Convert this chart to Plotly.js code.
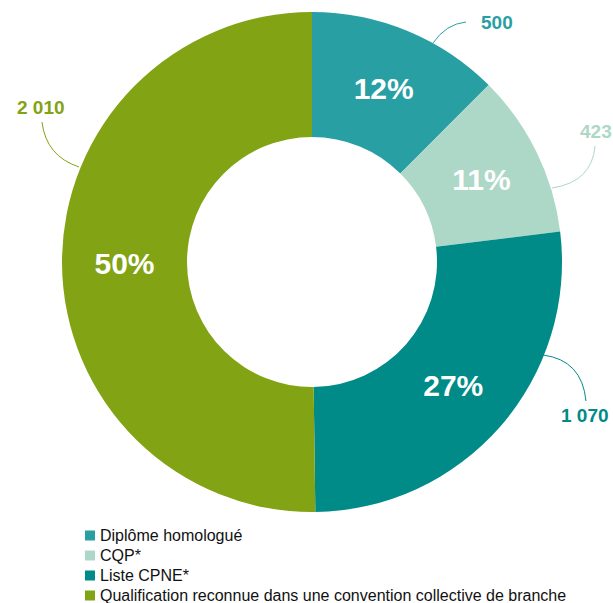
<!DOCTYPE html>
<html>
<head>
<meta charset="utf-8">
<script src="https://cdn.plot.ly/plotly-3.0.1.min.js"></script>
<style>
  html, body { margin: 0; padding: 0; background: #ffffff; }
  #chart { width: 613px; height: 603px; }
</style>
</head>
<body>
<div id="chart"></div>
<script>
// Répartition des certifications par type
const categories = [
  'Diplôme homologué',
  'CQP*',
  'Liste CPNE*',
  'Qualification reconnue dans une convention collective de branche'
];
const values = [500, 423, 1070, 2010];
const percentLabels = ['12%', '11%', '27%', '50%'];
const colors = ['#289FA3', '#ADD8C8', '#008A88', '#82A313'];

const FONT = 'Arial, "Liberation Sans", sans-serif';
const W = 613, H = 603;
const px = x => x / W;
const py = y => 1 - y / H;

// French thousands separator (space)
const fmt = v => String(v).replace(/\B(?=(\d{3})+(?!\d))/g, ' ');

// Value callouts with their leader curves (pixel geometry)
const callouts = [
  { label: [497, 22], from: [433, 43], ctrl: [446, 24], to: [466, 22] },
  { label: [596, 131], from: [595, 146], ctrl: [592, 182], to: [552, 188] },
  { label: [585, 415], from: [586, 401], ctrl: [582, 360], to: [543, 355] },
  { label: [41, 108], from: [42, 122], ctrl: [46, 156], to: [79, 167] }
];

const annotations = callouts.map((c, i) => ({
  xref: 'paper', yref: 'paper',
  x: px(c.label[0]), y: py(c.label[1]),
  xanchor: 'center', yanchor: 'middle',
  text: '<b>' + fmt(values[i]) + '</b>',
  showarrow: false,
  font: { family: FONT, size: 19, color: colors[i] }
}));

const shapes = callouts.map((c, i) => ({
  type: 'path',
  xref: 'paper', yref: 'paper',
  path: 'M ' + px(c.from[0]) + ',' + py(c.from[1]) +
        ' Q ' + px(c.ctrl[0]) + ',' + py(c.ctrl[1]) +
        ' ' + px(c.to[0]) + ',' + py(c.to[1]),
  line: { color: colors[i], width: 1 }
}));

// Compact legend below the ring: square swatch + label, one row per category
const LEG_X = 85, LEG_Y0 = 535.5, LEG_ROW = 20, SW = 10;
categories.forEach((name, i) => {
  const cy = LEG_Y0 + i * LEG_ROW;
  shapes.push({
    type: 'rect', xref: 'paper', yref: 'paper',
    x0: px(LEG_X), x1: px(LEG_X + SW),
    y0: py(cy + SW / 2), y1: py(cy - SW / 2),
    fillcolor: colors[i], line: { width: 0 }
  });
  annotations.push({
    xref: 'paper', yref: 'paper',
    x: px(LEG_X + SW + 3), y: py(cy),
    xanchor: 'left', yanchor: 'middle',
    text: name, showarrow: false,
    font: { family: FONT, size: 16, color: '#111111' }
  });
});

const trace = {
  type: 'pie',
  labels: categories,
  values: values,
  text: percentLabels,
  textinfo: 'text',
  textposition: 'inside',
  insidetextorientation: 'horizontal',
  insidetextfont: { family: FONT, size: 30, color: '#ffffff', weight: 'bold' },
  hole: 0.5,
  sort: false,
  direction: 'clockwise',
  rotation: 0,
  marker: { colors: colors, line: { width: 0 } },
  domain: { x: [px(62), px(562)], y: [py(512), py(12)] },
  hoverinfo: 'label+value+percent'
};

const layout = {
  width: W, height: H,
  margin: { l: 0, r: 0, t: 0, b: 0, autoexpand: false },
  paper_bgcolor: '#ffffff',
  showlegend: false,
  annotations: annotations,
  shapes: shapes
};

Plotly.newPlot('chart', [trace], layout, { displayModeBar: false, staticPlot: true });
</script>
</body>
</html>
